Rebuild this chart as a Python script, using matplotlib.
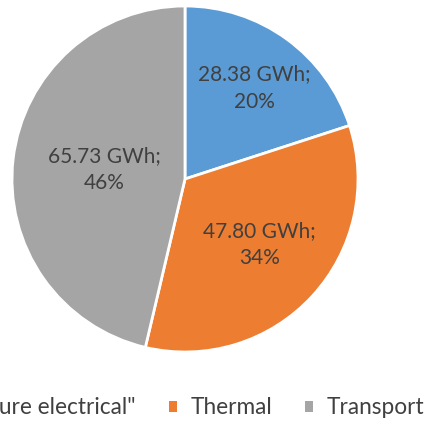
import numpy as np
import matplotlib.pyplot as plt
from matplotlib.patches import Patch

# energy demand split (GWh)
categories = ['"Pure electrical"', 'Thermal', 'Transport']
energy_gwh = [28.38, 47.80, 65.73]
share_labels = ['20%', '34%', '46%']
colors = ['#5B9BD5', '#ED7D31', '#A5A5A5']
label_radius = [0.65, 0.56, 0.49]

plt.rcParams['font.family'] = ['Lato', 'DejaVu Sans']
text_color = '#404040'

W, H = 428, 424
fig = plt.figure(figsize=(W / 100, H / 100), dpi=100)

cx, cy, r = 185, 179, 173
ax = fig.add_axes([(cx - r) / W, (H - cy - r) / H, 2 * r / W, 2 * r / H])

wedges, _ = ax.pie(energy_gwh, colors=colors, startangle=90, counterclock=False,
                   wedgeprops=dict(edgecolor='white', linewidth=2))
ax.set_xlim(-1, 1)
ax.set_ylim(-1, 1)
ax.set_aspect('equal')
ax.axis('off')

# value labels inside each slice
for w, val, pct, d in zip(wedges, energy_gwh, share_labels, label_radius):
    mid = np.deg2rad((w.theta1 + w.theta2) / 2)
    ax.text(d * np.cos(mid) + 0.02, d * np.sin(mid), f'{val:.2f} GWh;\n{pct}',
            ha='center', va='center', fontsize=15, color=text_color,
            linespacing=1.45)

handles = [Patch(facecolor=c, edgecolor='none') for c in colors]
fig.legend(handles, categories, loc='center right', ncol=3, frameon=False,
           bbox_to_anchor=(424 / W, 1 - 408 / H), borderaxespad=0, borderpad=0,
           fontsize=16.3, labelcolor=text_color, handlelength=0.35,
           handleheight=0.35, handletextpad=0.6, columnspacing=1.45)

fig.savefig('out.png', dpi=100)
